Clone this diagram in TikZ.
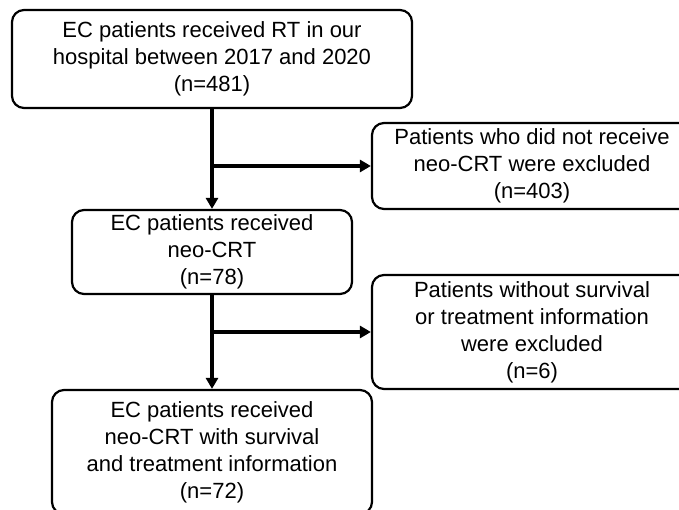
\documentclass[tikz,border=0pt]{standalone}
\usepackage{fontspec}
\setmainfont{Liberation Sans}
\usetikzlibrary{shapes,arrows.meta}

\begin{document}
\begin{tikzpicture}[x=1pt,y=-1pt,
    block_main/.style ={rectangle, draw=black, line width=2.2pt, fill=white,
      rounded corners=12pt, align=center, inner sep=0pt,
      font=\fontsize{22}{27}\selectfont},
    block_excl/.style ={block_main, minimum width=320pt},
    line/.style ={draw, line width=3.2pt, -{Triangle[length=11pt,width=12pt]}}]
    \useasboundingbox (0,0) rectangle (679,510);
    \clip (0,0) rectangle (679,510);
    % left column - patients kept
    \node[block_main, minimum width=400pt, minimum height=98pt] (all) at (212,59)
      {EC patients received RT in our\\hospital between 2017 and 2020\\(n=481)};
    \node[block_main, minimum width=280pt, minimum height=84pt] (neo) at (212,252)
      {EC patients received\\neo-CRT\\(n=78)};
    \node[block_main, minimum width=320pt, minimum height=124pt] (final) at (212,452)
      {EC patients received\\neo-CRT with survival\\and treatment information\\(n=72)};
    % right column - patients excluded
    \node[block_excl, minimum height=86pt] (excl_crt) at (532,166)
      {Patients who did not receive\\neo-CRT were excluded\\(n=403)};
    \node[block_excl, minimum height=114pt] (excl_info) at (532,332)
      {Patients without survival\\or treatment information\\were excluded\\(n=6)};
    % connectors
    \coordinate (split_crt) at (all.south |- excl_crt.west);
    \coordinate (split_info) at (neo.south |- excl_info.west);
    \path[line] (all.south) -- (neo.north);
    \path[line] (split_crt) -- (excl_crt.west);
    \path[line] (neo.south) -- (final.north);
    \path[line] (split_info) -- (excl_info.west);
\end{tikzpicture}
\end{document}
